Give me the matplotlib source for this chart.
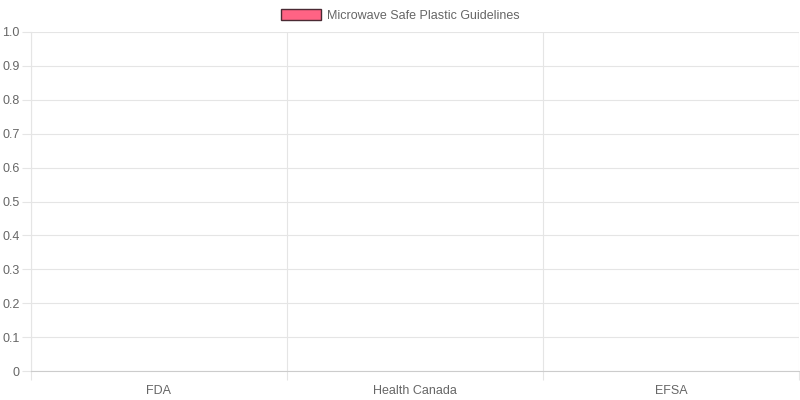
import matplotlib
matplotlib.use("Agg")
import matplotlib.pyplot as plt
from matplotlib.patches import Patch
import numpy as np

categories = ["FDA", "Health Canada", "EFSA"]
values = [0, 0, 0]
series_label = "Microwave Safe Plastic Guidelines"
y_ticks = [0, 0.1, 0.2, 0.3, 0.4, 0.5, 0.6, 0.7, 0.8, 0.9, 1.0]
y_tick_labels = ["0", "0.1", "0.2", "0.3", "0.4", "0.5", "0.6", "0.7", "0.8", "0.9", "1.0"]

plt.rcParams['font.family'] = ['Liberation Sans', 'DejaVu Sans']
text_color = "#666666"
grid_color = "#e5e5e5"
fill = "#ff6384"
edge = "#4a2a33"

fig = plt.figure(figsize=(8, 4), dpi=100)
ax = fig.add_axes([30.5/800, 29/400, 768.5/800, 339/400])

x = np.arange(len(categories))
ax.bar(x, values, width=0.8, color=fill, linewidth=0)

ax.set_xlim(-0.5, len(categories) - 0.5)
ax.set_ylim(0, 1.0)

ax.set_yticks(y_ticks)
ax.set_yticklabels(y_tick_labels)
ax.set_xticks(x)
ax.set_xticklabels(categories)
ax.set_xticks(np.arange(len(categories) + 1) - 0.5, minor=True)

ax.tick_params(axis='x', which='major', length=0, pad=10, labelsize=9, labelcolor=text_color)
ax.tick_params(axis='x', which='minor', length=6.5, color=grid_color, width=0.8)
ax.tick_params(axis='y', length=6.5, color=grid_color, width=0.8, pad=1.5, labelsize=9, labelcolor=text_color)

ax.grid(True, axis='y', which='major', color=grid_color, linewidth=0.8)
ax.grid(True, axis='x', which='minor', color=grid_color, linewidth=0.8)
ax.set_axisbelow(True)

for s in ['top', 'right']:
    ax.spines[s].set_visible(False)
ax.spines['left'].set_color(grid_color)
ax.spines['left'].set_linewidth(0.8)
ax.spines['bottom'].set_color("#cccccc")
ax.spines['bottom'].set_linewidth(0.8)

handle = Patch(facecolor=fill, edgecolor=edge, linewidth=1.0, label=series_label)
fig.legend(handles=[handle], loc='center', bbox_to_anchor=(0.5, 1 - 15.5/400),
           frameon=False, fontsize=9, labelcolor=text_color,
           handlelength=3.2, handleheight=0.95, handletextpad=0.5)

fig.savefig("out.png", dpi=100)
